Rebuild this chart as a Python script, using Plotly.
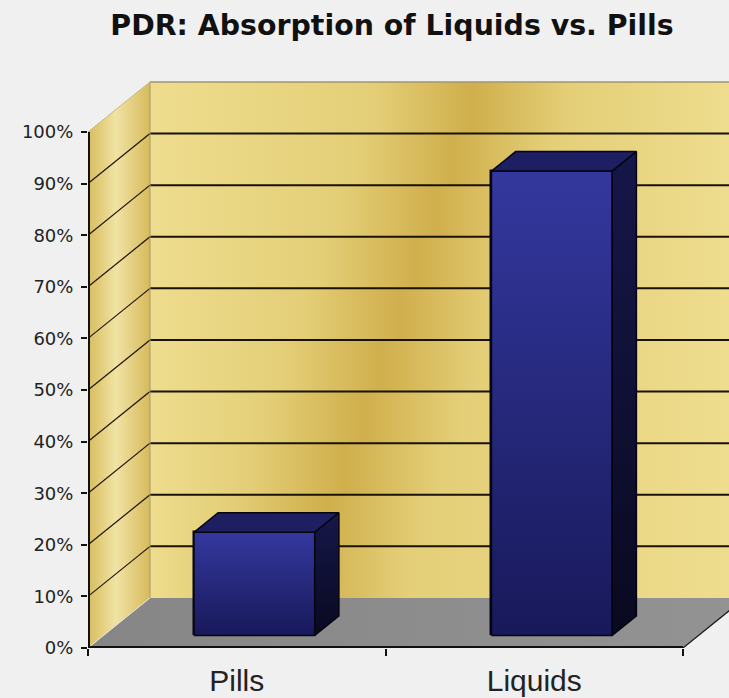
import plotly.graph_objects as go

# ---------------- data ----------------
categories = ["Pills", "Liquids"]
values = [20, 90]
y_tick_values = [0, 10, 20, 30, 40, 50, 60, 70, 80, 90, 100]
y_tick_labels = ["0%", "10%", "20%", "30%", "40%", "50%", "60%", "70%", "80%", "90%", "100%"]
title_text = "PDR: Absorption of Liquids vs. Pills"

# ---------------- geometry / style ----------------
W, H = 729, 698
ML, MR, MT, MB = 88, 0, 80, 50
PX_CAT = 297.5          # pixels per category
PX_PCT = 5.16           # pixels per percent
XMAX = (W - ML - MR) / PX_CAT
YMAX = (H - MT - MB) / PX_PCT
DX = 62 / PX_CAT        # depth offset (x, category units)
DY = 9.7                # depth offset (y, percent units)
D0, D1 = 0.25, 0.64     # bar depth span (fraction of full depth)
HALF = 0.203            # half bar width (category units)
SHIFT = 0.007           # small category-centre nudge

fig = go.Figure()

def poly(x, y, **kw):
    fig.add_trace(go.Scatter(x=x, y=y, fill="toself", mode="none",
                             hoverinfo="skip", showlegend=False, **kw))

def line(x, y, color, width, **kw):
    fig.add_trace(go.Scatter(x=x, y=y, mode="lines", line=dict(color=color, width=width),
                             hoverinfo="skip", showlegend=False, **kw))

# side wall
poly([0, 0, DX, DX, 0], [0, 100, 100 + DY, DY, 0],
     fillgradient=dict(type="horizontal", start=0, stop=DX,
                       colorscale=[[0, "#d8bc5e"], [0.45, "#f1e3a4"], [1, "#d6ba5c"]]))

# back wall, as strips between gridlines with a diagonal golden sheen
light, light2, dark = "#eedd8e", "#e4cf78", "#d0af4c"
for lo, hi in zip(y_tick_values[:-1], y_tick_values[1:]):
    mid = (lo + hi) / 2
    band_px = 300 + 1.8 * mid
    pc = (band_px - (ML + 62)) / (W - ML - 62)
    pc = min(max(pc, 0.2), 0.8)
    cs = [[0, light], [pc - 0.17, light2], [pc, dark], [pc + 0.17, light2], [1, light]]
    poly([DX, XMAX, XMAX, DX, DX], [lo + DY, lo + DY, hi + DY, hi + DY, lo + DY],
         fillgradient=dict(type="horizontal", start=DX, stop=XMAX, colorscale=cs))

# floor
poly([0, 2, 2 + DX, DX, 0], [0, 0, DY, DY, 0],
     fillgradient=dict(type="horizontal", start=0, stop=2 + DX,
                       colorscale=[[0, "#868686"], [1, "#939393"]]))

# gridlines on side wall and back wall
sx, sy, bx, by = [], [], [], []
for v in y_tick_values[1:-1]:
    sx += [0, DX, None]; sy += [v, v + DY, None]
    bx += [DX, XMAX, None]; by += [v + DY, v + DY, None]
line(sx, sy, "#1a1208", 1.2)
line(bx, by, "#1a1208", 2)

# wall edges
line([DX, XMAX], [100 + DY, 100 + DY], "#a09474", 1.5)
line([DX, DX], [DY, 100 + DY], "#a89a6c", 1)
line([0, DX], [100, 100 + DY], "#c9b878", 1)
line([0, DX], [0, DY], "#e6e4d6", 1)
line([2, 2 + DX], [0, DY], "#1a1a1a", 1.2)

# axis lines (half of the width is clipped at the plot edge)
line([0, 0], [0, 100], "#111111", 4)
line([0, 2], [0, 0], "#111111", 4)

# ---------------- bars (overlay axes so they sit above the walls) ----------------
ox0, oy0 = D0 * DX, D0 * DY
ox1, oy1 = D1 * DX, D1 * DY
centers = [i + 0.5 for i in range(len(categories))]
bar_c = [c + SHIFT for c in centers]

fig.add_trace(go.Bar(
    x=[c + ox0 for c in bar_c], y=values, base=[oy0] * len(values),
    width=2 * HALF, marker=dict(color="#262a7c", line=dict(color="#050510", width=1.5)),
    xaxis="x2", yaxis="y2", showlegend=False, hovertext=categories, name=""))

for c, v in zip(bar_c, values):
    l, r = c - HALF, c + HALF
    # front face gradient
    fig.add_trace(go.Scatter(
        x=[l + ox0, r + ox0, r + ox0, l + ox0, l + ox0],
        y=[oy0, oy0, v + oy0, v + oy0, oy0],
        fill="toself", mode="lines", line=dict(color="#050510", width=1.5),
        fillgradient=dict(type="vertical", start=oy0, stop=v + oy0,
                          colorscale=[[0, "#18195a"], [1, "#34389e"]]),
        xaxis="x2", yaxis="y2", hoverinfo="skip", showlegend=False))
    # top face
    fig.add_trace(go.Scatter(
        x=[l + ox0, r + ox0, r + ox1, l + ox1, l + ox0],
        y=[v + oy0, v + oy0, v + oy1, v + oy1, v + oy0],
        fill="toself", mode="lines", line=dict(color="#050510", width=1.5),
        fillcolor="#1d1f62",
        xaxis="x2", yaxis="y2", hoverinfo="skip", showlegend=False))
    # side face
    fig.add_trace(go.Scatter(
        x=[r + ox0, r + ox1, r + ox1, r + ox0, r + ox0],
        y=[oy0, oy1, v + oy1, v + oy0, oy0],
        fill="toself", mode="lines", line=dict(color="#050510", width=1.5),
        fillgradient=dict(type="vertical", start=oy0, stop=v + oy1,
                          colorscale=[[0, "#090920"], [1, "#16174a"]]),
        xaxis="x2", yaxis="y2", hoverinfo="skip", showlegend=False))

# ---------------- layout ----------------
fig.update_layout(
    width=W, height=H,
    margin=dict(l=ML, r=MR, t=MT, b=MB, pad=0),
    paper_bgcolor="#f0f0f0", plot_bgcolor="rgba(0,0,0,0)",
    title=dict(text=title_text, x=392 / W, xanchor="center", y=1 - 25 / H, yanchor="middle",
               font=dict(family="DejaVu Sans", size=28.4, color="#111111", weight="bold")),
    xaxis=dict(range=[0, XMAX], showgrid=False, zeroline=False, showline=False,
               tickmode="array", tickvals=centers, ticktext=categories, ticks="",
               tickfont=dict(family="Liberation Sans", size=30, color="#222222"),
               ticklabelstandoff=12,
               minor=dict(tickmode="array", tickvals=[0, 1, 2], ticks="outside",
                          ticklen=7, tickwidth=2, tickcolor="#111111")),
    yaxis=dict(range=[0, YMAX], showgrid=False, zeroline=False, showline=False,
               tickmode="array", tickvals=y_tick_values, ticktext=y_tick_labels,
               ticks="outside", ticklen=6, tickwidth=2, tickcolor="#111111",
               ticklabelstandoff=4,
               tickfont=dict(family="DejaVu Sans", size=18, color="#222222")),
    xaxis2=dict(overlaying="x", range=[0, XMAX], visible=False, anchor="y2"),
    yaxis2=dict(overlaying="y", range=[0, YMAX], visible=False, anchor="x2"),
    bargap=0,
)

fig.write_html("out.html", config={"displayModeBar": False},
               post_script="document.body.style.margin='0px';document.body.style.overflow='hidden';")
